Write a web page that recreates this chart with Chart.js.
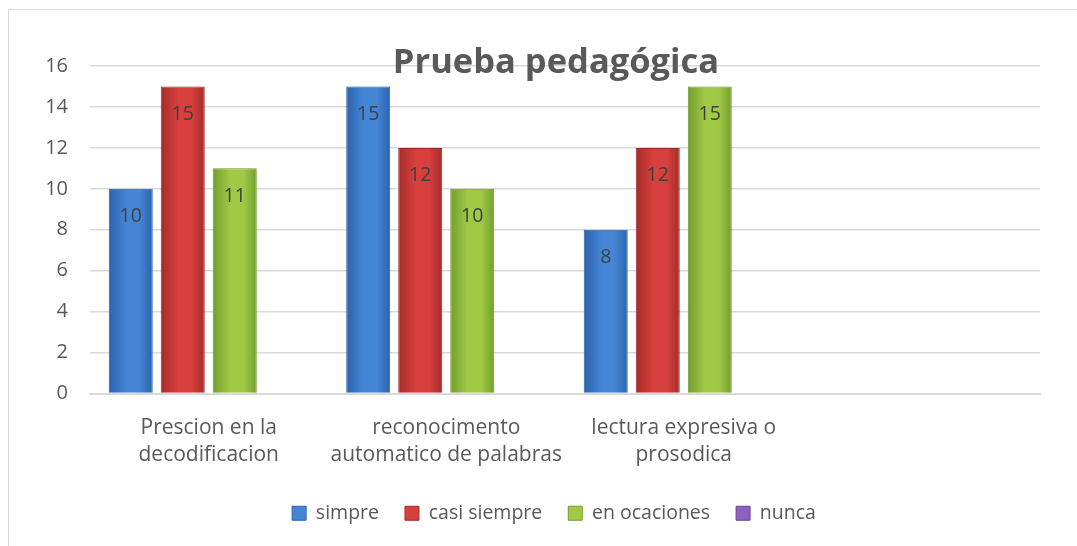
<!DOCTYPE html>
<html>
<head>
    <meta charset="utf-8">
    <title>Prueba pedagógica</title>
    <script src="https://cdn.jsdelivr.net/npm/chart.js"></script>
    <style>
        html, body { margin: 0; padding: 0; background: #fff; overflow: hidden; }
        #wrap { width: 1077px; height: 546px; position: relative; }
    </style>
</head>
<body>
    <div id="wrap">
        <canvas id="pruebaChart"></canvas>
    </div>
    <script>
        const categories = [
            ['Prescion en la', 'decodificacion'],
            ['reconocimento', 'automatico de palabras'],
            ['lectura expresiva o', 'prosodica'],
            ''
        ];
        const simpre = [10, 15, 8, null];
        const casiSiempre = [15, 12, 12, null];
        const enOcaciones = [11, 10, 15, null];
        const nunca = [null, null, null, null];
        const yTicks = [0, 2, 4, 6, 8, 10, 12, 14, 16];

        const CAT_PCT = 0.876;
        const BAR_PCT = 0.846;
        const textColor = '#595959';
        const fontFam = '"Open Sans", "Noto Sans", sans-serif';

        // edge / middle colours for the shaded bars
        const shades = [
            ['#2b62ad', '#4585d6'],
            ['#a52c2a', '#d8403d'],
            ['#739e2c', '#a0ca46'],
            ['#6a4598', '#8d62bf']
        ];

        function barFill(c) {
            const chart = c.chart;
            const xs = chart.scales.x;
            const pair = shades[c.datasetIndex];
            if (!xs || !chart.chartArea || c.dataIndex === undefined) return pair[1];
            const catW = xs.width / categories.length;
            const slot = catW * CAT_PCT / 4;
            const cx = xs.getPixelForValue(c.dataIndex) + (c.datasetIndex - 1.5) * slot;
            const half = slot * BAR_PCT / 2;
            const g = chart.ctx.createLinearGradient(cx - half, 0, cx + half, 0);
            g.addColorStop(0, pair[0]);
            g.addColorStop(0.4, pair[1]);
            g.addColorStop(0.7, pair[1]);
            g.addColorStop(1, pair[0]);
            return g;
        }

        const frameAndTitle = {
            id: 'frameAndTitle',
            afterLayout(chart) {
                // legend in the original is centred on the whole frame, not the plot
                if (chart.legend) {
                    chart.legend.left += 34;
                    chart.legend.right += 34;
                }
            },
            beforeDraw(chart) {
                const ctx = chart.ctx;
                ctx.save();
                ctx.strokeStyle = '#d9d9d9';
                ctx.lineWidth = 1;
                ctx.beginPath();
                ctx.moveTo(8.5, 546);
                ctx.lineTo(8.5, 9.5);
                ctx.lineTo(1077, 9.5);
                ctx.stroke();
                ctx.restore();
            },
            afterDatasetsDraw(chart) {
                const ctx = chart.ctx;
                ctx.save();
                ctx.fillStyle = '#404040';
                ctx.font = '19.5px ' + fontFam;
                ctx.textAlign = 'center';
                ctx.textBaseline = 'middle';
                chart.data.datasets.forEach((ds, di) => {
                    const meta = chart.getDatasetMeta(di);
                    meta.data.forEach((bar, i) => {
                        const v = ds.data[i];
                        if (v === null || v === undefined) return;
                        ctx.fillText(String(v), bar.x, bar.y + 28);
                    });
                });
                ctx.restore();
            },
            afterDraw(chart) {
                const ctx = chart.ctx;
                ctx.save();
                ctx.fillStyle = textColor;
                ctx.font = 'bold 34.5px ' + fontFam;
                ctx.textAlign = 'center';
                ctx.textBaseline = 'alphabetic';
                ctx.fillText('Prueba pedagógica', 556, 73);
                ctx.restore();
            }
        };

        const ctx = document.getElementById('pruebaChart').getContext('2d');
        const chart = new Chart(ctx, {
            type: 'bar',
            data: {
                labels: categories,
                datasets: [
                    { label: 'simpre', data: simpre, backgroundColor: barFill, borderColor: '#2a5a9c', borderWidth: 1 },
                    { label: 'casi siempre', data: casiSiempre, backgroundColor: barFill, borderColor: '#962826', borderWidth: 1 },
                    { label: 'en ocaciones', data: enOcaciones, backgroundColor: barFill, borderColor: '#6a9228', borderWidth: 1 },
                    { label: 'nunca', data: nunca, backgroundColor: barFill, borderColor: '#5f3e8a', borderWidth: 1 }
                ]
            },
            options: {
                responsive: true,
                maintainAspectRatio: false,
                animation: false,
                categoryPercentage: CAT_PCT,
                barPercentage: BAR_PCT,
                layout: { padding: { left: 0, right: 37, top: 66, bottom: 13 } },
                plugins: {
                    title: { display: false },
                    tooltip: { enabled: false },
                    legend: {
                        position: 'bottom',
                        labels: {
                            color: textColor,
                            font: { size: 19.5, family: fontFam },
                            boxWidth: 14,
                            boxHeight: 14,
                            padding: 26,
                            generateLabels(ch) {
                                return ch.data.datasets.map((ds, i) => ({
                                    text: ds.label,
                                    fillStyle: shades[i][1],
                                    strokeStyle: shades[i][0],
                                    lineWidth: 1,
                                    fontColor: textColor,
                                    datasetIndex: i
                                }));
                            }
                        }
                    }
                },
                scales: {
                    x: {
                        grid: { display: false },
                        border: { color: '#d9d9d9', width: 2 },
                        ticks: {
                            color: textColor,
                            font: { size: 21, family: fontFam, lineHeight: 1.3 },
                            maxRotation: 0,
                            autoSkip: false,
                            padding: 13
                        },
                        afterFit(s) { s.height = 84; }
                    },
                    y: {
                        min: 0,
                        max: 16,
                        afterBuildTicks(s) { s.ticks = yTicks.map(v => ({ value: v })); },
                        grid: { color: '#d9d9d9', lineWidth: 1.5, drawTicks: false },
                        border: { display: false },
                        ticks: {
                            color: textColor,
                            font: { size: 20, family: fontFam },
                            padding: 22
                        },
                        afterFit(s) { s.width = 90; }
                    }
                }
            },
            plugins: [frameAndTitle]
        });
    </script>
</body>
</html>
